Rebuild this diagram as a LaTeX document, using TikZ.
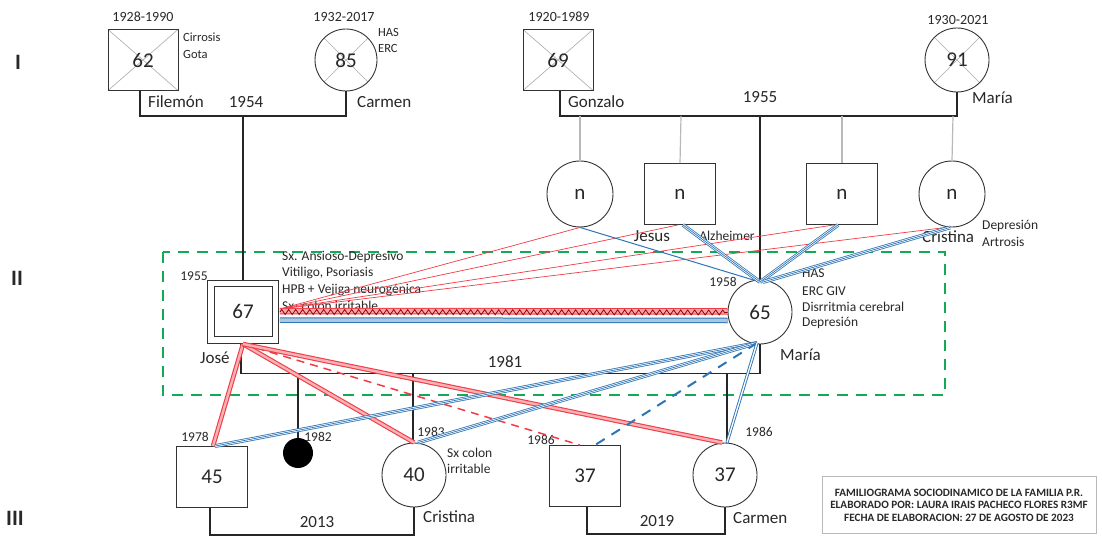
\documentclass[tikz,border=0pt]{standalone}
\usepackage{fontspec}
\setmainfont{Carlito}
\usetikzlibrary{decorations.pathmorphing}
\definecolor{redC}{RGB}{240,60,70}
\definecolor{blueC}{RGB}{46,117,182}
\definecolor{greenC}{RGB}{20,170,85}
\definecolor{txt}{RGB}{40,40,40}
\begin{document}
\begin{tikzpicture}[x=1pt,y=-1pt,
 male/.style={draw=black!80, line width=0.9pt, rectangle, minimum width=70pt, minimum height=61pt, inner sep=0, font=\fontsize{21}{24}\selectfont, text=txt},
 female/.style={draw=black!80, line width=0.9pt, circle, minimum size=64pt, inner sep=0, font=\fontsize{21}{24}\selectfont, text=txt},
 dead/.style={path picture={\draw[gray!65, line width=0.6pt] (path picture bounding box.north west) -- (path picture bounding box.south east) (path picture bounding box.south west) -- (path picture bounding box.north east);}},
 pname/.style={font=\fontsize{17}{20}\selectfont, text=txt, inner sep=0, anchor=west},
 yearL/.style={font=\fontsize{17}{20}\selectfont, text=txt, inner sep=0},
 dates/.style={font=\fontsize{14}{16}\selectfont, text=txt, inner sep=0},
 note/.style={font=\fontsize{13.5}{16}\selectfont, text=txt, inner sep=0, anchor=west},
 gen/.style={font=\bfseries\fontsize{22}{24}\selectfont, text=txt, inner sep=0},
 fam/.style={draw=black!85, line width=1.2pt},
 kid/.style={draw=gray!55, line width=1.2pt},
 redthin/.style={draw=redC, line width=0.7pt},
 redband/.style={draw=redC, line width=1.1pt, double=redC!40, double distance=2.4pt},
 bluesingle/.style={draw=blueC, line width=1pt},
 bluetriple/.style={preaction={draw=blueC, line width=3.8pt}, preaction={draw=white, line width=2.2pt}, draw=blueC, line width=0.7pt},
 bluedouble/.style={draw=blueC, line width=0.9pt, double=white, double distance=1.3pt},
 reddash/.style={draw=redC, line width=1.5pt, dash pattern=on 8pt off 6pt},
 bluedash/.style={draw=blueC, line width=2pt, dash pattern=on 10pt off 8pt},
]
\useasboundingbox (0,0) rectangle (1102,537);
\fill[white] (0,0) rectangle (1102,537);

% generation labels
\node[gen] (gI) at (18,62) {I};
\node[gen] (gII) at (17,278) {II};
\node[gen] (gIII) at (15,518) {III};

% green dashed box
\draw[draw=greenC, line width=2pt, dash pattern=on 11pt off 8pt] (163,252) rectangle (945,395);

% ---------- Generation I ----------
\node[male, dead] (filemon) at (143,60) {62};
\node[female, dead, minimum size=62pt] (carmen1) at (346,60) {85};
\node[male, dead] (gonzalo) at (558,60) {69};
\node[female, dead] (maria1) at (957,60) {91};

\node[dates] (d1) at (143,17) {1928-1990};
\node[note, font=\fontsize{12.5}{15}\selectfont] (c1) at (183,37) {Cirrosis};
\node[note, font=\fontsize{12.5}{15}\selectfont] (c2) at (183,54) {Gota};
\node[pname] (nfil) at (148,102) {Filemón};
\node[yearL] (y1954) at (246,102) {1954};
\node[dates] (d2) at (344,17) {1932-2017};
\node[note, font=\fontsize{12.5}{15}\selectfont] (c3) at (378,32) {HAS};
\node[note, font=\fontsize{12.5}{15}\selectfont] (c4) at (378,48) {ERC};
\node[pname] (ncar) at (357,102) {Carmen};
\node[dates] (d3) at (559,17) {1920-1989};
\node[pname] (ngon) at (568,102) {Gonzalo};
\node[yearL] (y1955) at (760,97) {1955};
\node[dates] (d4) at (958,20) {1930-2021};
\node[pname] (nmar1) at (972,98) {María};

\draw[fam] ([xshift=-3pt]filemon.south) -- ++(0,25) -| (carmen1.south);
\draw[fam] ([xshift=2pt]gonzalo.south) -- ++(0,25) -| (maria1.south);

% siblings of María
\node[female, minimum size=66pt] (n1) at (580,194) {n};
\node[male, minimum width=71pt] (n2) at (680,194) {n};
\node[male, minimum width=71pt] (n3) at (842,194) {n};
\node[female, minimum size=66pt] (n4) at (952,194) {n};
\node[pname, anchor=center] (njes) at (652,236) {Jesus};
\node[note, anchor=center] (nalz) at (727,236) {Alzheimer};
\node[pname] (ncri1) at (922,237) {Cristina};
\node[note] (c5) at (982,226) {Depresión};
\node[note] (c6) at (982,242) {Artrosis};

\coordinate (k1) at (580,116);
\coordinate (k2) at (681,116);
\coordinate (k3) at (760,116);
\coordinate (k4) at (842,116);
\coordinate (k5) at (953,116);
\coordinate (k0) at (243,116);
\draw[kid] (k1) -- (n1.north);
\draw[kid] (k2) -- (n2.north);
\draw[kid] (k4) -- (n3.north);
\draw[kid] (k5) -- (n4.north);

% ---------- Generation II ----------
\node[draw=black!80, line width=0.9pt, minimum width=71pt, minimum height=63pt, inner sep=0] (jose) at (243,311.5) {};
\node[draw=black!80, line width=0.9pt, minimum width=58pt, minimum height=50pt, inner sep=0, font=\fontsize{21}{24}\selectfont, text=txt] (josein) at (jose.center) {67};
\node[female, minimum size=64pt] (maria2) at (760,312) {65};
\draw[fam] (k0) -- (jose.north);
\draw[fam] (k3) -- (maria2.north);

\node[note, anchor=center] (d5) at (194,276) {1955};
\node[note] (j1) at (282,257) {Sx. Ansioso-Depresivo};
\node[note] (j2) at (282,273) {Vitiligo, Psoriasis};
\node[note] (j3) at (282,290) {HPB + Vejiga neurogénica};
\node[note] (j4) at (282,306) {Sx. colon irritable};
\node[pname] (njose) at (200,358) {José};
\node[note, anchor=center] (d6) at (723,282) {1958};
\node[note] (m1) at (802,273) {HAS};
\node[note] (m2) at (802,291) {ERC GIV};
\node[note] (m3) at (802,307) {Disrritmia cerebral};
\node[note] (m4) at (802,323) {Depresión};
\node[pname] (nmar2) at (780,355) {María};
\node[yearL] (y1981) at (505,362) {1981};

% ---------- Generation III ----------
\node[male, minimum width=71pt] (son45) at (212,477) {45};
\node[circle, fill=black, minimum size=30pt, inner sep=0] (baby) at (298,453) {};
\node[female] (cris2) at (414,475) {40};
\node[male, minimum width=71pt] (sq37) at (585,476) {37};
\node[female] (carm2) at (725,475) {37};

\node[note, anchor=center] (d7) at (195,437) {1978};
\node[note, anchor=center] (d8) at (318,437) {1982};
\node[note, anchor=center] (d9) at (431,432) {1983};
\node[note] (cc1) at (447,453) {Sx colon};
\node[note] (cc2) at (447,469) {irritable};
\node[pname] (ncri2) at (423,517) {Cristina};
\node[yearL] (y2013) at (317,522) {2013};
\node[note, anchor=center] (d10) at (541,440) {1986};
\node[note, anchor=center] (d11) at (759,432) {1986};
\node[pname] (ncar2) at (733,518) {Carmen};
\node[yearL] (y2019) at (657,521) {2019};

% family lines gen II-III
\draw[fam] ([xshift=-2pt]jose.south) -- ++(0,30) coordinate (u3) -| (maria2.south);
\draw[fam] (baby.north |- u3) -- (baby.north);
\draw[fam] ([xshift=-1pt]cris2.north |- u3) -- ([xshift=-1pt]cris2.north);
\draw[fam] ([xshift=2pt]carm2.north |- u3) -- ([xshift=2pt]carm2.north);
\draw[fam] ([xshift=-2pt]son45.south) -- ++(0,27) -| (cris2.south);
\draw[fam] ([xshift=2pt]sq37.south) -- ++(0,27) -| (carm2.south);

% ---------- relationship lines ----------
\coordinate (jR) at (280,309);
\coordinate (jB) at (243,344);
\coordinate (mT) at (760,282);
\coordinate (mB) at (757,343);

% José to María's siblings
\draw[redthin] (jR) -- (n1.south);
\draw[redthin] (jR) -- ([xshift=-2pt]n2.south);
\draw[redthin] (jR) -- ([xshift=-8pt]n3.south);
\draw[redthin] (jR) -- ([xshift=-6pt]n4.south);
% María to her siblings
\draw[bluesingle] (n1.south) -- (mT);
\draw[bluetriple] ([xshift=3pt]n2.south) -- (mT);
\draw[bluetriple] ([xshift=-4pt]n3.south) -- (mT);
\draw[bluetriple] ([xshift=-2pt]n4.south) -- ([xshift=3pt]mT);

% José - María
\draw[draw=redC, line width=1pt, double=redC!45, double distance=4.5pt] ([xshift=1pt,yshift=0.5pt]jose.east) -- ([yshift=0.5pt]maria2.west);
\draw[draw=red!60!black, line width=0.8pt, decorate, decoration={zigzag, amplitude=2.5pt, segment length=7pt}] ([xshift=1pt,yshift=-0.5pt]jose.east) -- ([yshift=-0.5pt]maria2.west);
\draw[draw=blueC, line width=1pt, double=blueC!40, double distance=3.5pt] ([xshift=1pt,yshift=-8.5pt]jose.east) -- ([yshift=-8.5pt]maria2.west);

% José to children
\draw[redband] (jB) -- ([xshift=1pt]son45.north);
\draw[redband] (jB) -- (cris2.north);
\draw[reddash] (jB) -- ([xshift=-5pt]sq37.north);
\draw[redband] (jB) -- ([xshift=-3pt]carm2.north);
% María to children
\draw[bluetriple] (mB) -- ([xshift=3pt]son45.north);
\draw[bluetriple] (mB) -- ([xshift=4pt]cris2.north);
\draw[bluedash] (mB) -- ([xshift=10pt]sq37.north);
\draw[bluedouble] (mB) -- ([xshift=2pt]carm2.north);

% legend
\node[draw=gray!55, line width=1pt, minimum width=274pt, minimum height=57pt, inner sep=0] (legend) at (959,505) {};
\node[align=center, font=\bfseries\fontsize{11.2}{12.5}\selectfont, text=txt, inner sep=0] (legtxt) at (legend.center) {FAMILIOGRAMA SOCIODINAMICO DE LA FAMILIA P.R.\\ELABORADO POR: LAURA IRAIS PACHECO FLORES R3MF\\FECHA DE ELABORACION: 27 DE AGOSTO DE 2023};
\end{tikzpicture}
\end{document}
